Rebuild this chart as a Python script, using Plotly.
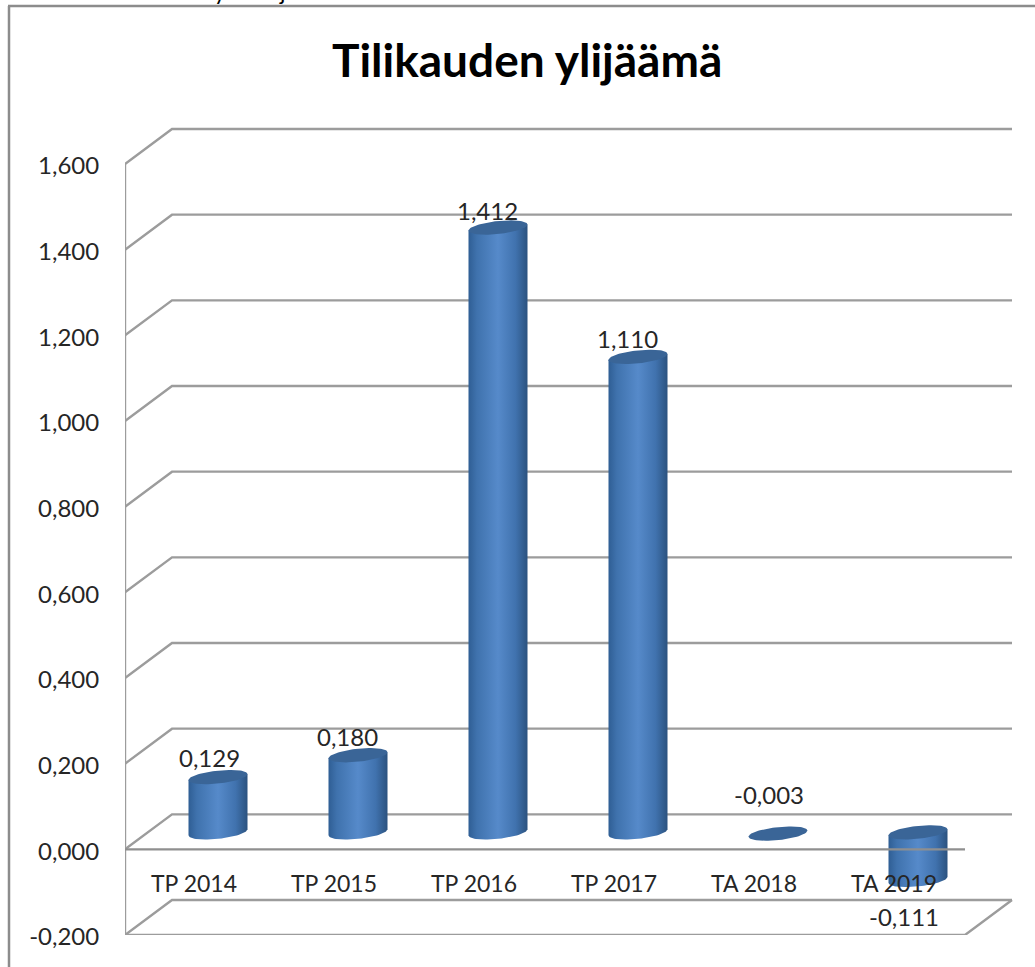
import numpy as np
import plotly.graph_objects as go

# ---- data ----
categories = ["TP 2014", "TP 2015", "TP 2016", "TP 2017", "TA 2018", "TA 2019"]
values = [0.129, 0.180, 1.412, 1.110, -0.003, -0.111]
value_labels = ["0,129", "0,180", "1,412", "1,110", "-0,003", "-0,111"]
y_ticks = [-0.2, 0.0, 0.2, 0.4, 0.6, 0.8, 1.0, 1.2, 1.4, 1.6]
label_xshift = [14, 12, 12, 12, 14, 9]
label_yshift = [37, 36, 34, 35, 56, -20]

# ---- geometry (pixels in the 1035x967 page) ----
W, H = 1035, 967
PL, PR, PT, PB = 125, 1025, 120, 935
PX_X = 140.0                 # px per category
PX_Y = (935 - 164) / 1.8     # px per value unit
WALL_DX, WALL_DY = 47 / PX_X, 35 / PX_Y
MID_DX, MID_DY = 23 / PX_X, 17 / PX_Y
CYL_A, CYL_B, CYL_T = 29.5 / PX_X, 6.5 / PX_Y, 3.0 / PX_Y

GRID = "#9c9c9c"
TEXT = "#262626"
FONT = "Lato"

xr = [-0.5, -0.5 + (PR - PL) / PX_X]
yr = [-0.2, -0.2 + (PB - PT) / PX_Y]


def px(p):
    return (p - PL) / (PR - PL)


def py(p):
    return (PB - p) / (PB - PT)


def line(xs, ys, color=GRID, width=2.4):
    return go.Scatter(x=xs, y=ys, mode="lines", hoverinfo="skip", showlegend=False,
                      cliponaxis=False, line=dict(color=color, width=width, simplify=False))


fig = go.Figure()

# walls: left vertical, diagonals, back lines
x0 = xr[0]
xf = x0 + len(categories)
fig.add_trace(line([x0, x0], [y_ticks[0], y_ticks[-1]]))
for t in y_ticks:
    fig.add_trace(line([x0, x0 + WALL_DX, xf + WALL_DX], [t, t + WALL_DY, t + WALL_DY]))
# floor at the axis minimum
fig.add_trace(line([x0, xf, xf + WALL_DX], [y_ticks[0], y_ticks[0], y_ticks[0] + WALL_DY]))

# cylinders
ts_low = np.linspace(np.pi, 2 * np.pi, 40)
ts_all = np.linspace(0, 2 * np.pi, 80)
for i, v in enumerate(values):
    cx = i + MID_DX
    top = max(v, 0) + MID_DY
    bot = min(v, 0) + MID_DY
    if abs(v) > 0.01:
        xl = cx + CYL_A * np.cos(ts_low)
        yl = bot + CYL_B * np.sin(ts_low) + CYL_T * np.cos(ts_low)
        xs = list(xl) + [cx + CYL_A, cx - CYL_A, cx - CYL_A]
        ys = list(yl) + [top + CYL_T, top - CYL_T, bot - CYL_T]
        fig.add_trace(go.Scatter(
            x=xs, y=ys, mode="lines", fill="toself", hoverinfo="skip", showlegend=False,
            line=dict(width=0, color="rgba(0,0,0,0)"),
            fillgradient=dict(type="horizontal", colorscale=[
                [0.0, "#2f5e94"], [0.14, "#3f72ad"], [0.5, "#568aca"],
                [0.8, "#4072ae"], [1.0, "#2b527f"]]),
        ))
    cap_y = v + MID_DY if v < 0 and abs(v) <= 0.01 else top
    fig.add_trace(go.Scatter(
        x=cx + CYL_A * np.cos(ts_all),
        y=cap_y + CYL_B * np.sin(ts_all) + CYL_T * np.cos(ts_all),
        mode="lines", fill="toself", fillcolor="#3a6597", hoverinfo="skip", showlegend=False,
        line=dict(width=0, color="rgba(0,0,0,0)"),
    ))

# front baseline at zero, above the cylinders
fig.add_trace(line([x0, xf], [0, 0], color="#8f8f8f"))

annotations = [
    dict(x=i, y=v, xref="x", yref="y", text=value_labels[i], showarrow=False,
         xshift=label_xshift[i], yshift=label_yshift[i], xanchor="center", yanchor="middle",
         font=dict(family=FONT, size=24, color=TEXT))
    for i, v in enumerate(values)
]
annotations.append(dict(
    x=px(527), y=py(60), xref="paper", yref="paper", text="<b>Tilikauden ylijäämä</b>",
    showarrow=False, xanchor="center", yanchor="middle",
    font=dict(family=FONT, size=46, color="#000000")))
# descenders of a text line cut off by the top edge of the picture
for ch, cx_px in (("y", 220), ("j", 282)):
    annotations.append(dict(
        x=px(cx_px), y=py(7), xref="paper", yref="paper", text=ch, showarrow=False,
        xanchor="center", yanchor="bottom", font=dict(family=FONT, size=23, color="#000000")))

shapes = [
    dict(type="line", xref="paper", yref="paper", x0=px(9), x1=px(9), y0=py(6), y1=py(H + 5),
         line=dict(color="#8c8c8c", width=2.5)),
    dict(type="line", xref="paper", yref="paper", x0=px(8), x1=px(W + 5), y0=py(6), y1=py(6),
         line=dict(color="#8c8c8c", width=2.5)),
]

fig.update_layout(
    width=W, height=H, autosize=False,
    margin=dict(l=PL, r=W - PR, t=PT, b=H - PB, pad=0),
    paper_bgcolor="#ffffff", plot_bgcolor="#ffffff",
    showlegend=False, annotations=annotations, shapes=shapes,
    font=dict(family=FONT, size=23, color=TEXT),
    xaxis=dict(
        range=xr, showgrid=False, zeroline=False, showline=False,
        tickmode="array", tickvals=list(range(len(categories))), ticktext=categories,
        anchor="free", position=(0 - yr[0]) / (yr[1] - yr[0]),
        ticks="outside", ticklen=14, tickcolor="rgba(0,0,0,0)",
        ticklabelshift=-1,
        tickfont=dict(family=FONT, size=23, color=TEXT),
    ),
    yaxis=dict(
        range=yr, showgrid=False, zeroline=False, showline=False,
        tickmode="array", tickvals=y_ticks, ticktext=[f"{t:.3f}".replace(".", ",") for t in y_ticks],
        ticks="outside", ticklen=20, tickcolor="rgba(0,0,0,0)",
        ticklabelshift=2,
        tickfont=dict(family=FONT, size=24, color=TEXT),
    ),
)

fig.write_html("out.html", config={"displayModeBar": False},
               post_script="document.body.style.margin='0';document.body.style.overflow='hidden';")
